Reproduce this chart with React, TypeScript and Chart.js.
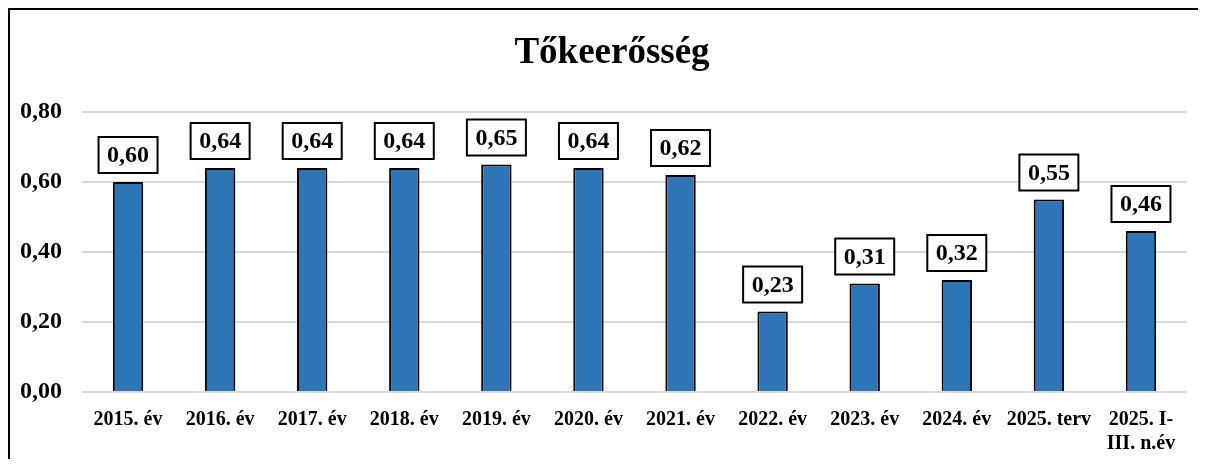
import React, { useEffect, useRef } from "react";
import { Chart, registerables } from "chart.js";

Chart.register(...registerables);

const title = "Tőkeerősség";
const categories: (string | string[])[] = [
  "2015. év",
  "2016. év",
  "2017. év",
  "2018. év",
  "2019. év",
  "2020. év",
  "2021. év",
  "2022. év",
  "2023. év",
  "2024. év",
  "2025. terv",
  ["2025. I-", "III. n.év"],
];
const values = [0.6, 0.64, 0.64, 0.64, 0.65, 0.64, 0.62, 0.23, 0.31, 0.32, 0.55, 0.46];
const yMin = 0;
const yMax = 0.8;
const yStep = 0.2;

const FONT = '"Liberation Serif", "Times New Roman", serif';
const fmt = (v: number) => v.toFixed(2).replace(".", ",");

const labelBoxPlugin = {
  id: "labelBoxes",
  afterDatasetsDraw(chart: any) {
    const ctx = chart.ctx;
    const meta = chart.getDatasetMeta(0);
    const data = chart.data.datasets[0].data as number[];
    ctx.save();
    ctx.font = `bold 24px ${FONT}`;
    ctx.textAlign = "center";
    ctx.textBaseline = "middle";
    meta.data.forEach((el: any, i: number) => {
      const text = fmt(data[i]);
      const w = ctx.measureText(text).width + 17;
      const h = 36;
      const bottom = el.y - 9;
      const top = bottom - h;
      const left = el.x - w / 2;
      ctx.fillStyle = "#ffffff";
      ctx.fillRect(left, top, w, h);
      ctx.lineWidth = 2;
      ctx.strokeStyle = "#000000";
      ctx.strokeRect(left, top, w, h);
      ctx.fillStyle = "#000000";
      ctx.fillText(text, el.x, top + h / 2 + 1);
    });
    ctx.restore();
  },
};

// Title centred on the whole chart object (which extends past the window's right edge)
const titlePlugin = {
  id: "centeredTitle",
  afterDraw(chart: any) {
    const ctx = chart.ctx;
    ctx.save();
    ctx.font = `bold 37px ${FONT}`;
    ctx.textAlign = "center";
    ctx.textBaseline = "middle";
    ctx.fillStyle = "#000000";
    ctx.fillText(title, chart.width / 2, 43);
    ctx.restore();
  },
};

export default function App() {
  const ref = useRef<HTMLCanvasElement | null>(null);
  useEffect(() => {
    document.documentElement.style.overflow = "hidden";
    document.body.style.overflow = "hidden";
    if (!ref.current) return;
    const chart = new Chart(ref.current, {
      type: "bar",
      data: {
        labels: categories,
        datasets: [
          {
            data: values,
            backgroundColor: "#2E75B6",
            borderColor: "#000000",
            borderWidth: 2,
            barPercentage: 0.33,
            categoryPercentage: 1,
          },
        ],
      },
      plugins: [labelBoxPlugin, titlePlugin],
      options: {
        responsive: false,
        animation: false,
        layout: { padding: { left: 0, right: 27, top: 102, bottom: 0 } },
        plugins: {
          legend: { display: false },
          tooltip: { enabled: false },
          title: { display: false },
        },
        scales: {
          x: {
            grid: { display: false },
            border: { display: false },
            ticks: {
              color: "#000000",
              font: { family: FONT, size: 20, weight: "bold" },
              maxRotation: 0,
              autoSkip: false,
              padding: 8,
            },
            afterFit: (scale: any) => {
              scale.height = 67;
            },
          },
          y: {
            min: yMin,
            max: yMax,
            border: { display: false },
            grid: { color: "#d9d9d9", lineWidth: 2, drawTicks: false },
            ticks: {
              stepSize: yStep,
              color: "#000000",
              font: { family: FONT, size: 24, weight: "bold" },
              padding: 20,
              callback: (v: any) => fmt(Number(v)),
            },
            afterFit: (scale: any) => {
              scale.width = 72;
            },
          },
        },
      },
    });
    return () => chart.destroy();
  }, []);
  return (
    <div
      style={{
        width: 1206,
        height: 451,
        borderTop: "2px solid #000",
        borderLeft: "2px solid #000",
        boxSizing: "border-box",
        background: "#fff",
      }}
    >
      <canvas ref={ref} width={1204} height={449} style={{ display: "block" }} />
    </div>
  );
}
